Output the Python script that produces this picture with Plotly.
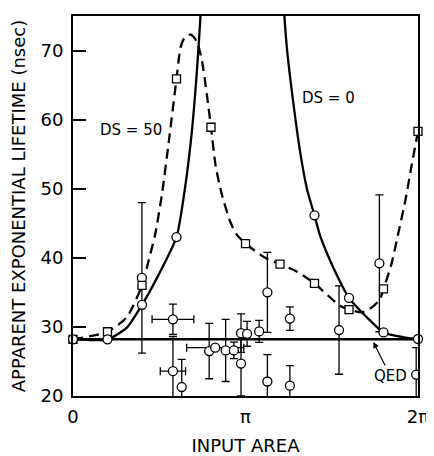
import math

import plotly.graph_objects as go

PI = math.pi

# Theory points (computed at multiples of pi/5)
ds0_x = [0.0, 0.628, 1.257, 1.885, 4.398, 5.027, 5.655, 6.283]
ds0_y = [28.2, 28.2, 33.2, 43.0, 46.15, 34.2, 29.2, 28.25]

ds50_x = [0.0, 0.628, 1.257, 1.885, 2.513, 3.142, 3.770, 4.398, 5.027, 5.655, 6.283]
ds50_y = [28.2, 29.3, 36.0, 65.9, 58.9, 42.05, 39.1, 36.3, 32.5, 35.5, 58.3]

# Hand-drawn curves (None splits the DS=0 branches)
ds0_curve_x = [0.0, 0.63, 0.98, 1.257, 1.53, 1.885, 2.04, 2.165, 2.256, 2.316, 2.34,
               None, 3.83, 3.85, 3.90, 4.01, 4.135, 4.26, 4.398, 4.50, 4.74, 5.027,
               5.35, 5.655, 6.02, 6.283]
ds0_curve_y = [28.2, 28.2, 29.9, 33.2, 37.1, 43.0, 50.1, 58.3, 67.0, 74.2, 78.0,
               None, 78.0, 75.0, 70.0, 62.6, 55.4, 50.0, 46.15, 43.2, 38.6, 34.2,
               31.4, 29.2, 28.5, 28.25]

ds50_curve_x = [0.0, 0.628, 0.98, 1.257, 1.376, 1.497, 1.62, 1.74, 1.885, 1.96, 2.04,
                2.147, 2.256, 2.347, 2.44, 2.513, 2.60, 2.71, 2.86, 2.98, 3.142, 3.50,
                3.770, 4.08, 4.398, 4.86, 5.027, 5.26, 5.44, 5.59, 5.655, 5.80, 5.92,
                6.05, 6.17, 6.283]
ds50_curve_y = [28.2, 29.3, 31.4, 36.0, 39.55, 43.4, 49.2, 56.5, 65.9, 70.5, 72.0,
                72.3, 71.3, 68.6, 63.5, 58.9, 53.2, 49.2, 45.3, 43.4, 42.05, 40.0,
                39.1, 38.0, 36.3, 33.05, 32.5, 32.1, 32.8, 34.0, 35.5, 39.1, 43.4,
                48.2, 53.5, 58.3]

# Measured lifetimes with error bars
exp_x = [1.255, 1.82, 1.82, 1.98, 2.48, 2.59, 2.78, 2.93, 3.06, 3.17, 3.06, 3.39,
         3.54, 3.54, 3.95, 3.95, 4.845, 5.58, 6.25]
exp_y = [37.1, 31.1, 23.6, 21.3, 26.5, 27.0, 26.6, 26.6, 29.1, 29.0, 24.7, 29.35,
         35.0, 22.1, 31.2, 21.5, 29.55, 39.2, 23.1]
exp_yerr = [10.9, 2.2, 5.0, 4.0, 4.0, 0.0, 4.5, 1.2, 2.8, 1.8, 4.7, 1.6,
            5.8, 3.9, 1.7, 2.9, 6.4, 9.9, 3.9]
exp_xerr = [0.0, 0.38, 0.23, 0.0, 0.0, 0.52, 0.0, 0.0, 0.0, 0.0, 0.0, 0.0,
            0.0, 0.0, 0.0, 0.0, 0.0, 0.0, 0.0]

qed_value = 28.2

FONT = "DejaVu Sans"

fig = go.Figure()

# QED reference level
fig.add_trace(go.Scatter(
    x=[0.0, 2 * PI], y=[qed_value, qed_value], mode="lines",
    line={"color": "black", "width": 2.5}, hoverinfo="skip",
))

# DS = 0 (solid) and DS = 50 (dashed) curves
fig.add_trace(go.Scatter(
    x=ds0_curve_x, y=ds0_curve_y, mode="lines",
    line={"color": "black", "width": 2.3, "shape": "spline", "smoothing": 0.6},
    connectgaps=False, hoverinfo="skip",
))
fig.add_trace(go.Scatter(
    x=ds50_curve_x, y=ds50_curve_y, mode="lines",
    line={"color": "black", "width": 2.3, "shape": "spline", "smoothing": 0.6,
          "dash": "10px,6px"},
    hoverinfo="skip",
))

# experimental points
fig.add_trace(go.Scatter(
    x=exp_x, y=exp_y, mode="markers",
    marker={"symbol": "circle", "size": 9, "color": "white",
            "line": {"color": "black", "width": 1.3}},
    error_y={"type": "data", "array": exp_yerr, "color": "black",
             "thickness": 1.3, "width": 4},
    error_x={"type": "data", "array": exp_xerr, "color": "black",
             "thickness": 1.3, "width": 4},
))

# theory markers
fig.add_trace(go.Scatter(
    x=ds50_x, y=ds50_y, mode="markers", cliponaxis=False,
    marker={"symbol": "square", "size": 8, "color": "white",
            "line": {"color": "black", "width": 1.3}},
))
fig.add_trace(go.Scatter(
    x=ds0_x, y=ds0_y, mode="markers", cliponaxis=False,
    marker={"symbol": "circle", "size": 9, "color": "white",
            "line": {"color": "black", "width": 1.3}},
))

axis_common = {
    "showgrid": False, "zeroline": False, "showline": True,
    "linecolor": "black", "linewidth": 1.8, "mirror": True,
    "automargin": False,
    "tickfont": {"family": FONT, "size": 18, "color": "black"},
}

# the page body has an 8px margin, so the figure is sized to fit inside it
fig.update_layout(
    width=426, height=448,
    margin={"l": 65, "r": 16, "t": 8, "b": 60},
    paper_bgcolor="white", plot_bgcolor="white",
    showlegend=False,
    font={"family": FONT, "color": "black"},
    xaxis={
        **axis_common,
        "range": [0, 2 * PI],
        "tickvals": [0, PI, 2 * PI],
        "ticktext": ["0", "π", "2π"],
        "ticks": "",
        "ticklabelstandoff": 3,
        "title": {"text": "INPUT AREA", "font": {"family": FONT, "size": 18},
                  "standoff": 16},
    },
    yaxis={
        **axis_common,
        "range": [20, 75],
        "tickvals": [20, 30, 40, 50, 60, 70],
        "ticks": "inside", "ticklen": 13, "tickwidth": 1.5, "tickcolor": "black",
        "ticklabelstandoff": 4,
        "title": {"text": "APPARENT EXPONENTIAL LIFETIME (nsec)",
                  "font": {"family": FONT, "size": 18}, "standoff": 10},
    },
    annotations=[
        {"x": 1.06, "y": 58.45, "text": "DS = 50", "showarrow": False,
         "font": {"family": FONT, "size": 15}},
        {"x": 4.645, "y": 63.1, "text": "DS = 0", "showarrow": False,
         "font": {"family": FONT, "size": 15}},
        {"x": 5.47, "y": 27.8, "ax": 5.78, "ay": 22.9, "axref": "x", "ayref": "y",
         "text": "QED", "showarrow": True, "arrowhead": 2, "arrowsize": 1,
         "arrowwidth": 1.2, "arrowcolor": "black", "standoff": 0,
         "font": {"family": FONT, "size": 15}},
    ],
)

fig.write_html("out.html")
